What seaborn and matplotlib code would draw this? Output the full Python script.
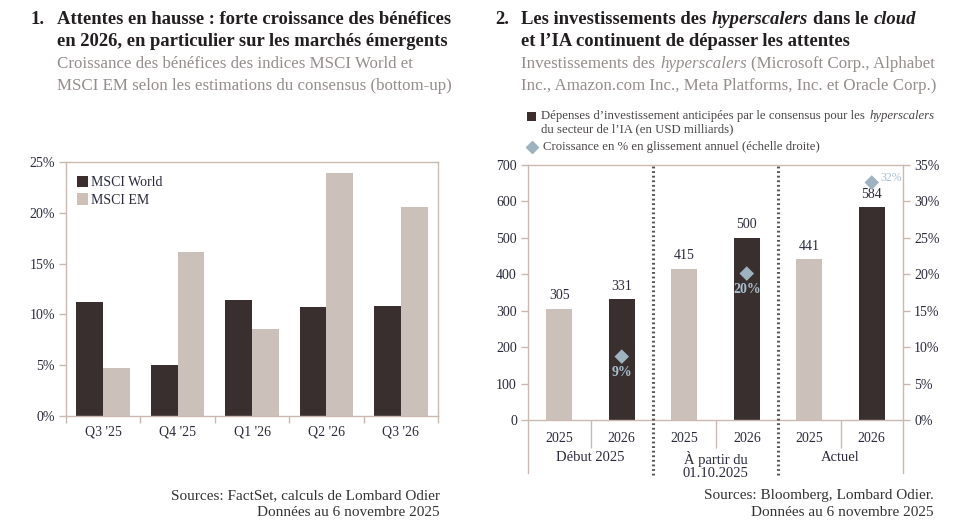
import numpy as np
import pandas as pd
import matplotlib
matplotlib.use("Agg")
import matplotlib.pyplot as plt
from matplotlib.patches import Rectangle, Patch
from matplotlib.lines import Line2D
import seaborn as sns

# ---------------- data ----------------
quarters = ["Q3 '25", "Q4 '25", "Q1 '26", "Q2 '26", "Q3 '26"]
msci_world = [11.2, 5.0, 11.4, 10.7, 10.8]
msci_em = [4.7, 16.1, 8.6, 23.9, 20.6]

periods = ["Début 2025", "À partir du\n01.10.2025", "Actuel"]
years = ["2025", "2026"]
capex = [305, 331, 415, 500, 441, 584]
growth = [8.7, 20.1, 32.6]
growth_labels = ["9%", "20%", "32%"]

# ---------------- style ----------------
DARK = "#3b2e2d"
LIGHT = "#cfc0b7"
TAN = "#c9b9b0"
NAVY = "#2a2a3c"
BLUE = "#9fb2c0"
LBLUE = "#aabfcf"
TITLE = "#231f20"
SUB = "#948d8b"
LEG = "#4a4646"

sns.set_theme(style="white")
plt.rcParams["font.family"] = ["Liberation Serif", "DejaVu Serif"]

W, H = 961, 529
fig = plt.figure(figsize=(W / 100, H / 100), dpi=100)
renderer = fig.canvas.get_renderer()


def fx(px):
    return px / W


def fy(py):
    return 1 - py / H


def rich(x, y, parts, **kw):
    """parts: list of (text, style); segments placed one after the other, y = pixel centre"""
    for txt, st in parts:
        a = fig.text(0, 0, "x x", style=st, **kw)
        b = fig.text(0, 0, "xx", style=st, **kw)
        sp = a.get_window_extent(renderer).width - b.get_window_extent(renderer).width
        a.remove()
        b.remove()
        lead = len(txt) - len(txt.lstrip(" "))
        trail = len(txt) - len(txt.rstrip(" "))
        x += lead * sp
        core = txt.strip(" ")
        if core:
            t = fig.text(fx(x), fy(y), core, style=st, va="center", ha="left", **kw)
            x += t.get_window_extent(renderer).width + (0.0 if st == "italic" else 1.0)
        x += trail * sp
    return x


# ---------------- titles ----------------
tkw = dict(fontsize=13.4, fontweight="bold", color=TITLE)
skw = dict(fontsize=12.2, color=SUB)
fig.text(fx(30), fy(20), "1.", va="center", ha="left", **tkw)
rich(57, 20, [("Attentes en hausse : forte croissance des bénéfices", "normal")], **tkw)
rich(57, 42, [("en 2026, en particulier sur les marchés émergents", "normal")], **tkw)
rich(57, 64, [("Croissance des bénéfices des indices MSCI World et", "normal")], **skw)
rich(57, 86, [("MSCI EM selon les estimations du consensus (bottom-up)", "normal")], **skw)

fig.text(fx(495), fy(20), "2.", va="center", ha="left", **tkw)
rich(521, 20, [("Les investissements des ", "normal"), ("hyperscalers", "italic"),
               (" dans le ", "normal"), ("cloud", "italic")], **tkw)
rich(521, 42, [("et l’IA continuent de dépasser les attentes", "normal")], **tkw)
rich(521, 64, [("Investissements des ", "normal"), ("hyperscalers", "italic"),
               (" (Microsoft Corp., Alphabet", "normal")], **skw)
rich(521, 86, [("Inc., Amazon.com Inc., Meta Platforms, Inc. et Oracle Corp.)", "normal")], **skw)

# right legend (outside axes)
lkw = dict(fontsize=9.2, color=LEG)
fig.add_artist(Rectangle((fx(527), fy(121)), fx(9), 9 / H, transform=fig.transFigure,
                         facecolor=DARK, edgecolor="none"))
rich(541, 116, [("Dépenses d’investissement anticipées par le consensus pour les ", "normal"),
                ("hyperscalers", "italic")], **lkw)
rich(541, 129, [("du secteur de l’IA (en USD milliards)", "normal")], **lkw)
fig.add_artist(Line2D([fx(532)], [fy(147)], marker="D", markersize=6, color=BLUE,
                      linestyle="none", transform=fig.transFigure))
rich(543, 147, [("Croissance en % en glissement annuel (échelle droite)", "normal")], **lkw)

# sources
srckw = dict(fontsize=11, color="#333333", ha="right", va="center")
fig.text(fx(440), fy(496), "Sources: FactSet, calculs de Lombard Odier", **srckw)
fig.text(fx(440), fy(512), "Données au 6 novembre 2025", **srckw)
fig.text(fx(934), fy(496), "Sources: Bloomberg, Lombard Odier.", **srckw)
fig.text(fx(934), fy(512), "Données au 6 novembre 2025", **srckw)

# ---------------- left chart ----------------
ax1 = fig.add_axes([fx(66), fy(416), fx(438) - fx(66), fy(162) - fy(416)])
df1 = pd.DataFrame({
    "quarter": quarters * 2,
    "value": msci_world + msci_em,
    "index": ["MSCI World"] * len(quarters) + ["MSCI EM"] * len(quarters),
})
sns.barplot(data=df1, x="quarter", y="value", hue="index",
            palette={"MSCI World": DARK, "MSCI EM": LIGHT},
            width=0.72, gap=0, linewidth=0, ax=ax1, legend=False)
ax1.set_xlim(-0.5, len(quarters) - 0.5)
ax1.set_ylim(0, 25)
ax1.set_yticks(np.arange(0, 26, 5))
ax1.set_yticklabels([f"{v}%" for v in range(0, 26, 5)])
ax1.set_xticks(range(len(quarters)))
ax1.set_xticklabels(quarters)
ax1.set_xticks(np.arange(-0.5, len(quarters), 1), minor=True)
ax1.set_xlabel("")
ax1.set_ylabel("")
for s in ax1.spines.values():
    s.set_color(TAN)
    s.set_linewidth(1)
ax1.tick_params(axis="x", which="major", bottom=False, length=0, labelsize=10,
                labelcolor=NAVY, pad=7)
ax1.tick_params(axis="x", which="minor", bottom=True, length=5, color=TAN, width=1)
ax1.tick_params(axis="y", left=True, length=5, color=TAN, width=1, labelsize=10,
                labelcolor=NAVY, pad=3)
handles = [Patch(facecolor=DARK, edgecolor="none"), Patch(facecolor=LIGHT, edgecolor="none")]
ax1.legend(handles, ["MSCI World", "MSCI EM"], loc="upper left", bbox_to_anchor=(0.0, 0.99),
           frameon=False, handlelength=0.75, handleheight=0.9, handletextpad=0.25,
           labelspacing=0.3, fontsize=10, labelcolor=NAVY, borderaxespad=0.4)

# ---------------- right chart ----------------
YMIN = -145.5
ax2 = fig.add_axes([fx(528), fy(473), fx(903) - fx(528), fy(165) - fy(473)])
pos = list(range(len(capex)))
df2 = pd.DataFrame({
    "pos": pos,
    "capex": capex,
    "year": years * len(periods),
})
sns.barplot(data=df2, x="pos", y="capex", hue="year", native_scale=True, dodge=False,
            palette={"2025": LIGHT, "2026": DARK}, width=0.42, linewidth=0,
            ax=ax2, legend=False)
ax2.set_xlim(-0.5, len(capex) - 0.5)
ax2.set_ylim(YMIN, 700)
ax2.set_yticks(np.arange(0, 701, 100))
ax2.set_yticklabels([str(v) for v in range(0, 701, 100)])
ax2.set_xticks([])
ax2.set_xlabel("")
ax2.set_ylabel("")
for side in ["top", "left", "right"]:
    ax2.spines[side].set_color(TAN)
    ax2.spines[side].set_linewidth(1)
ax2.spines["bottom"].set_visible(False)
ax2.axhline(0, color=TAN, lw=1, zorder=3)
ax2.tick_params(axis="y", left=True, length=5, color=TAN, width=1, labelsize=10,
                labelcolor=NAVY, pad=3)

for i, v in enumerate(capex):
    ax2.text(pos[i], v + 36, str(v), ha="center", va="center", fontsize=10, color=NAVY)
    ax2.text(pos[i], -52, years[i % 2], ha="center", va="center", fontsize=10, color=NAVY)

ax2.vlines([0.5, 2.5, 4.5], -77, 0, color=TAN, lw=1)
ax2.vlines([1.5, 3.5], YMIN - 6, 700, color="#5a5555", lw=2.2,
           linestyles=(0, (0.6, 0.9)), clip_on=False, zorder=4)
for g, name in enumerate(periods):
    ax2.text(2 * g + 0.5, -84, name, ha="center", va="top", fontsize=10.5, color=NAVY,
             linespacing=1.05)

ax3 = ax2.twinx()
ax3.set_ylim(YMIN / 20, 35)
ax3.set_yticks(np.arange(0, 36, 5))
ax3.set_yticklabels([f"{v}%" for v in range(0, 36, 5)])
gx = [1, 3, 5]
sns.scatterplot(x=gx, y=growth, marker="D", s=55, color=BLUE, edgecolor="none", ax=ax3,
                zorder=5)
for s in ax3.spines.values():
    s.set_visible(False)
ax3.tick_params(axis="y", right=True, length=5, color=TAN, width=1, labelsize=10,
                labelcolor=NAVY, pad=3)
for k in range(2):
    ax3.text(gx[k], growth[k] - 2.2, growth_labels[k], ha="center", va="center",
             fontsize=10, fontweight="bold", color=LBLUE)
ax3.text(gx[2] + 0.14, growth[2] + 0.6, growth_labels[2], ha="left", va="center",
         fontsize=8.5, color=LBLUE)
ax3.set_xlim(-0.5, len(capex) - 0.5)

fig.savefig("out.png", dpi=100)
